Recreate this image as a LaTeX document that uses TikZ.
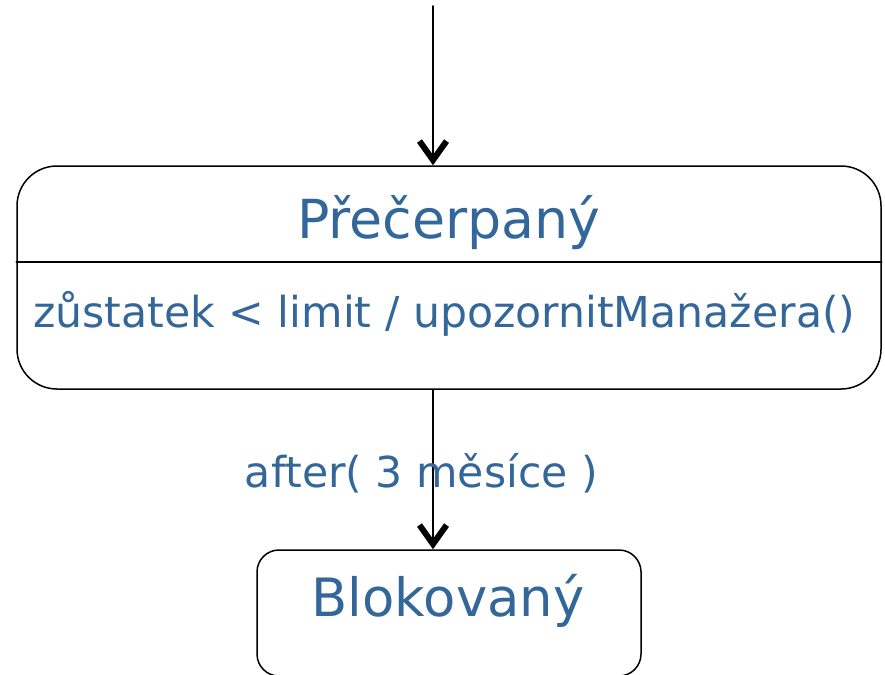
\documentclass[tikz,border=0pt]{standalone}
\usepackage{fontspec}
\setmainfont{DejaVu Sans}
\usepackage{tikz}
\usetikzlibrary{arrows.meta}
\definecolor{stavmodra}{HTML}{336699}

\begin{document}
\begin{tikzpicture}[line cap=round,line join=round,x=1pt,y=-1pt,
  stav/.style={draw,line width=1.5pt,inner sep=0pt},
  prechod/.style={line width=1.6pt,-{Straight Barb[length=19pt,width=27pt,line width=6pt]}},
  popis/.style={text=stavmodra,inner sep=0pt}]
\useasboundingbox (0,0) rectangle (885,674);
% stavy
\node[stav,rounded corners=40pt,minimum width=864pt,minimum height=223pt] (precerpany) at (449,277.5) {};
\node[stav,rounded corners=22pt,minimum width=384pt,minimum height=126pt] (blokovany) at (449,613) {};
\draw[line width=1.5pt] (precerpany.west |- 0,262) -- (precerpany.east |- 0,262);
\node[popis,anchor=base,font=\fontsize{53.8}{60}\selectfont] (nazev1) at (449,238) {Přečerpaný};
\node[popis,anchor=base west,font=\fontsize{42.6}{50}\selectfont] (akce) at (33,327) {zůstatek < limit / upozornitManažera()};
\node[popis,anchor=base,font=\fontsize{52.8}{60}\selectfont] (nazev2) at (448,616) {Blokovaný};
% prechody
\coordinate (start) at (433,6);
\draw[prechod] (start) -- (start |- precerpany.north);
\draw[prechod] (start |- precerpany.south) -- (start |- blokovany.north);
\node[popis,anchor=base,font=\fontsize{42.6}{50}\selectfont] (podminka) at (421.5,487) {after( 3 měsíce )};
\end{tikzpicture}
\end{document}
